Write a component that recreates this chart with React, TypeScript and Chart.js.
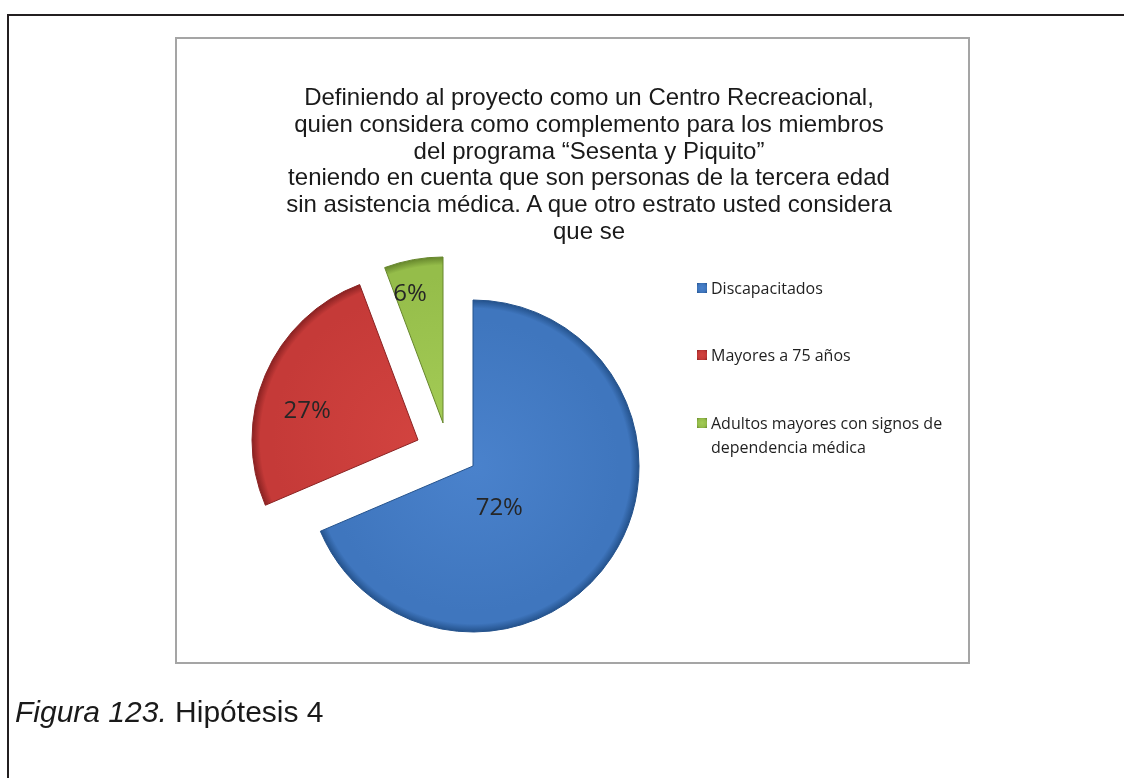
import React, { useEffect, useRef } from "react";
import { Chart, registerables } from "chart.js";

Chart.register(...registerables);

// ---- data ----
const categories = [
  "Discapacitados",
  "Mayores a 75 años",
  "Adultos mayores con signos de dependencia médica",
];
const values = [72, 27, 6];
const percentLabels = ["72%", "27%", "6%"];
const titleLines = [
  "Definiendo al proyecto como un Centro Recreacional,",
  "quien considera como complemento para los miembros",
  "del programa “Sesenta y Piquito”",
  "teniendo en cuenta que son personas de la tercera edad",
  "sin asistencia médica. A que otro estrato usted considera",
  "que se",
];
const captionItalic = "Figura 123.";
const captionRest = " Hipótesis 4";

// ---- styles ----
const BASE = ["#3f76be", "#c53a38", "#95bd4a"];
const LIGHT = ["#4a82cc", "#d2433f", "#a3cb55"];
const DARK = ["#24528c", "#8a2222", "#66862c"];
// slice explosion (pixel shift applied when drawing each slice)
const EXPLODE: [number, number][] = [
  [0, 0],
  [-55, -26],
  [-30, -43],
];
const RADIUS = 166;
// [fraction along the slice angle, fraction of radius]
const LABEL_POS: [number, number][] = [
  [0.6, 0.3],
  [0.41, 0.69],
  [0.3, 0.8],
];

const W = 1124;
const H = 778;
const CX = 473;
const CY = 466;

const explodePlugin = {
  id: "explodeSlices",
  beforeDatasetsDraw(chart: any) {
    const meta = chart.getDatasetMeta(0);
    meta.data.forEach((arc: any, i: number) => {
      if (arc.__wrapped) return;
      const orig = arc.draw.bind(arc);
      arc.draw = (ctx: CanvasRenderingContext2D, area: any) => {
        ctx.save();
        ctx.translate(EXPLODE[i][0], EXPLODE[i][1]);
        orig(ctx, area);
        ctx.restore();
      };
      arc.__wrapped = true;
    });
  },
};

const labelPlugin = {
  id: "sliceLabels",
  afterDatasetsDraw(chart: any) {
    const ctx = chart.ctx;
    const meta = chart.getDatasetMeta(0);
    ctx.save();
    ctx.font = '24px "Open Sans", sans-serif';
    ctx.fillStyle = "#262626";
    ctx.textAlign = "center";
    ctx.textBaseline = "middle";
    meta.data.forEach((arc: any, i: number) => {
      const p = arc.getProps(["x", "y", "startAngle", "endAngle", "outerRadius"], true);
      const a = p.startAngle + (p.endAngle - p.startAngle) * LABEL_POS[i][0];
      const r = p.outerRadius * LABEL_POS[i][1];
      ctx.fillText(
        percentLabels[i],
        p.x + EXPLODE[i][0] + Math.cos(a) * r,
        p.y + EXPLODE[i][1] + Math.sin(a) * r
      );
    });
    ctx.restore();
  },
};

function PieChart() {
  const ref = useRef<HTMLCanvasElement | null>(null);
  useEffect(() => {
    if (!ref.current) return;
    const padL = 300;
    const padR = W - (2 * CX - padL);
    const padT = 300;
    const padB = H - (2 * CY - padT);
    const chart = new Chart(ref.current, {
      type: "pie",
      data: {
        labels: categories,
        datasets: [
          {
            data: values,
            backgroundColor: (c: any) => {
              const i = c.dataIndex ?? 0;
              const area = c.chart.chartArea;
              if (!area) return BASE[i];
              const cx = (area.left + area.right) / 2;
              const cy = (area.top + area.bottom) / 2;
              const g = c.chart.ctx.createRadialGradient(cx, cy, 0, cx, cy, RADIUS);
              g.addColorStop(0, LIGHT[i]);
              g.addColorStop(0.88, BASE[i]);
              g.addColorStop(0.95, BASE[i]);
              g.addColorStop(1, DARK[i]);
              return g;
            },
            borderColor: DARK,
            borderWidth: 1,
            radius: RADIUS,
            clip: false,
          } as any,
        ],
      },
      options: {
        responsive: false,
        animation: false,
        layout: { padding: { left: padL, right: padR, top: padT, bottom: padB } },
        plugins: {
          legend: { display: false },
          title: { display: false },
          tooltip: { enabled: false },
        },
      },
      plugins: [explodePlugin, labelPlugin],
    });
    return () => chart.destroy();
  }, []);
  return (
    <canvas
      ref={ref}
      width={W}
      height={H}
      style={{ position: "absolute", left: 0, top: 0, width: W, height: H }}
    />
  );
}

export default function App() {
  const legendTops = [276, 343, 411];
  return (
    <div
      style={{
        position: "absolute",
        left: 0,
        top: 0,
        width: W,
        height: H,
        background: "#fff",
        overflow: "hidden",
      }}
    >
      {/* outer page frame */}
      <div style={{ position: "absolute", left: 7, top: 14, width: W - 7, height: 2, background: "#231f20" }} />
      <div style={{ position: "absolute", left: 7, top: 14, width: 2, height: H - 14, background: "#231f20" }} />
      {/* chart box */}
      <div
        style={{
          position: "absolute",
          left: 175,
          top: 37,
          width: 795,
          height: 627,
          border: "2px solid #a5a5a5",
          boxSizing: "border-box",
        }}
      />
      <PieChart />
      {/* title */}
      <div
        style={{
          position: "absolute",
          left: 589 - 350,
          top: 84,
          width: 700,
          textAlign: "center",
          fontFamily: '"Liberation Sans", Arial, sans-serif',
          fontSize: 24,
          lineHeight: "26.8px",
          color: "#1a1a1a",
          whiteSpace: "nowrap",
        }}
      >
        {titleLines.map((l, i) => (
          <div key={i}>{l}</div>
        ))}
      </div>
      {/* legend */}
      {categories.map((c, i) => (
        <div
          key={i}
          style={{
            position: "absolute",
            left: 697,
            top: legendTops[i],
            width: 262,
            display: "flex",
            alignItems: "flex-start",
            fontFamily: '"Open Sans", sans-serif',
            fontSize: 16,
            lineHeight: "24px",
            color: "#1f1f1f",
          }}
        >
          <span
            style={{
              display: "inline-block",
              width: 10,
              height: 10,
              marginTop: 7,
              marginRight: 4,
              flex: "0 0 auto",
              background: `radial-gradient(circle, ${LIGHT[i]} 0%, ${BASE[i]} 60%, ${DARK[i]} 100%)`,
            }}
          />
          <span style={{ width: 244 }}>{c}</span>
        </div>
      ))}
      {/* caption */}
      <div
        style={{
          position: "absolute",
          left: 15,
          top: 697,
          fontFamily: '"Liberation Sans", Arial, sans-serif',
          fontSize: 30,
          lineHeight: "30px",
          color: "#1a1a1a",
          whiteSpace: "nowrap",
        }}
      >
        <i>{captionItalic}</i>
        {captionRest}
      </div>
    </div>
  );
}
